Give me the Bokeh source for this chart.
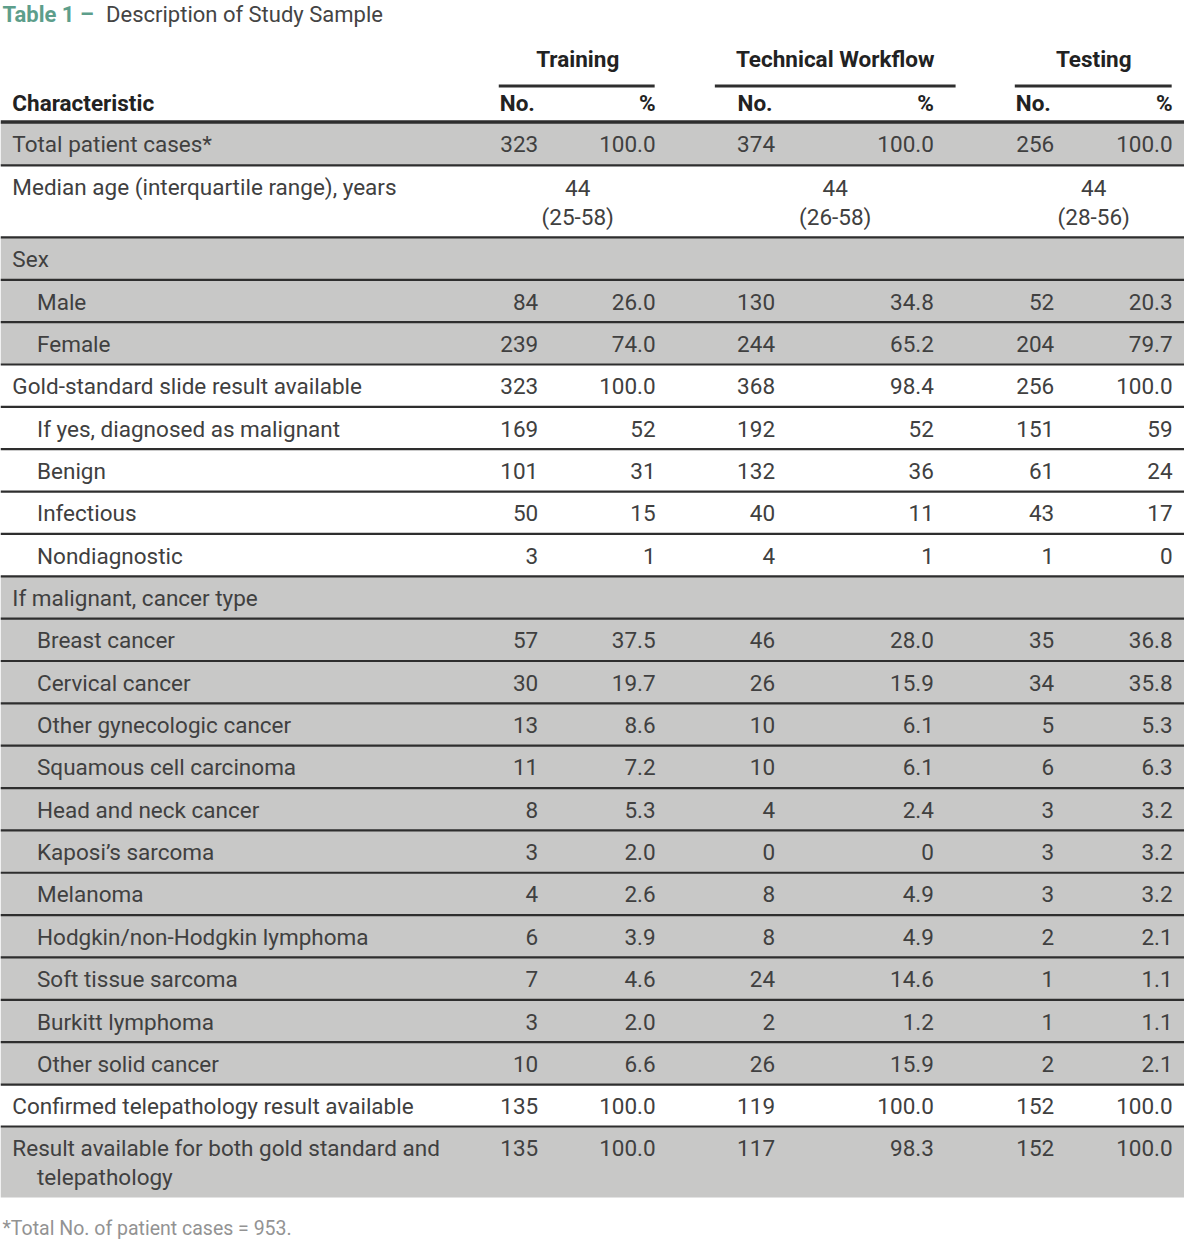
from bokeh.plotting import figure
from bokeh.models import ColumnDataSource, Range1d
from bokeh.embed import file_html
from bokeh.resources import INLINE
from bokeh.core.properties import value

# ---------------- data ----------------
title_bold = "Table 1 \u2013"
title_rest = "Description of Study Sample"
groups = ["Training", "Technical Workflow", "Testing"]
sub_no = "No."
sub_pct = "%"
first_header = "Characteristic"
footnote = "*Total No. of patient cases = 953."

labels = [
    "Total patient cases*",
    "Median age (interquartile range), years",
    "Sex",
    "Male",
    "Female",
    "Gold-standard slide result available",
    "If yes, diagnosed as malignant",
    "Benign",
    "Infectious",
    "Nondiagnostic",
    "If malignant, cancer type",
    "Breast cancer",
    "Cervical cancer",
    "Other gynecologic cancer",
    "Squamous cell carcinoma",
    "Head and neck cancer",
    "Kaposi\u2019s sarcoma",
    "Melanoma",
    "Hodgkin/non-Hodgkin lymphoma",
    "Soft tissue sarcoma",
    "Burkitt lymphoma",
    "Other solid cancer",
    "Confirmed telepathology result available",
    "Result available for both gold standard and",
]
label_cont = {23: "telepathology"}
indent = [0, 0, 0, 1, 1, 0, 1, 1, 1, 1, 0] + [1] * 11 + [0, 0]
shaded = [1, 0, 1, 1, 1, 0, 0, 0, 0, 0, 1] + [1] * 11 + [0, 1]

training_no = ["323", "", "", "84", "239", "323", "169", "101", "50", "3", "",
               "57", "30", "13", "11", "8", "3", "4", "6", "7", "3", "10", "135", "135"]
training_pct = ["100.0", "", "", "26.0", "74.0", "100.0", "52", "31", "15", "1", "",
                "37.5", "19.7", "8.6", "7.2", "5.3", "2.0", "2.6", "3.9", "4.6", "2.0", "6.6", "100.0", "100.0"]
tech_no = ["374", "", "", "130", "244", "368", "192", "132", "40", "4", "",
           "46", "26", "10", "10", "4", "0", "8", "8", "24", "2", "26", "119", "117"]
tech_pct = ["100.0", "", "", "34.8", "65.2", "98.4", "52", "36", "11", "1", "",
            "28.0", "15.9", "6.1", "6.1", "2.4", "0", "4.9", "4.9", "14.6", "1.2", "15.9", "100.0", "98.3"]
test_no = ["256", "", "", "52", "204", "256", "151", "61", "43", "1", "",
           "35", "34", "5", "6", "3", "3", "3", "2", "1", "1", "2", "152", "152"]
test_pct = ["100.0", "", "", "20.3", "79.7", "100.0", "59", "24", "17", "0", "",
            "36.8", "35.8", "5.3", "6.3", "3.2", "3.2", "3.2", "2.1", "1.1", "1.1", "2.1", "100.0", "100.0"]
median_age = ["44", "44", "44"]
median_iqr = ["(25-58)", "(26-58)", "(28-56)"]

# ---------------- layout ----------------
FONT = "Roboto"
FS = "22.5px"
TXT = "#404040"
GRAY = "#c8c8c7"
LINE = "#2e2e2e"

row_heights = [43.5, 73] + [42.9] * 20 + [42.5, 72]
top0 = 123.5
tops, bots = [], []
y = top0
for h in row_heights:
    tops.append(y)
    y += h
    bots.append(y)

group_centers = [585, 846, 1108]
group_lines = [(505, 663), (724, 968), (1028, 1187)]
no_right = [545, 785, 1068]
pct_right = [664, 946, 1188]
no_left = [506, 747, 1029]
label_x = [12, 37]

p = figure(width=1184, height=1242, x_range=Range1d(0, 1200), y_range=Range1d(1258, 0),
           output_backend="svg", toolbar_location=None, min_border=0)
p.axis.visible = False
p.grid.visible = False
p.outline_line_color = None
p.background_fill_color = "white"
p.border_fill_color = "white"

# shaded rows
sh = [i for i in range(len(labels)) if shaded[i]]
p.quad(left=0, right=1200, top=[tops[i] for i in sh], bottom=[bots[i] for i in sh],
       fill_color=GRAY, line_color=None)

# row separator lines
sep_y = bots[:-1]
p.segment(x0=0, x1=1200, y0=sep_y, y1=sep_y, line_color=LINE, line_width=2.2)
# header thick line
p.segment(x0=[0], x1=[1200], y0=[top0 - 0.5], y1=[top0 - 0.5], line_color=LINE, line_width=3.5)
# group underlines
p.segment(x0=[a for a, b in group_lines], x1=[b for a, b in group_lines],
          y0=[86.5] * 3, y1=[86.5] * 3, line_color=LINE, line_width=3)

# title
p.text(x=[2], y=[14], text=[title_bold], text_font=value(FONT), text_font_style="bold",
       text_font_size="22px", text_color="#5d9e8b", text_baseline="middle", text_align="left")
p.text(x=[107], y=[14], text=[title_rest], text_font=value(FONT),
       text_font_size="22px", text_color="#444444", text_baseline="middle", text_align="left")

# headers
p.text(x=group_centers, y=[59] * 3, text=groups, text_font=value(FONT), text_font_style="bold",
       text_font_size=FS, text_color="#222222", text_baseline="middle", text_align="center")
p.text(x=[12], y=[104], text=[first_header], text_font=value(FONT), text_font_style="bold",
       text_font_size=FS, text_color="#222222", text_baseline="middle", text_align="left")
p.text(x=no_left, y=[104] * 3, text=[sub_no] * 3, text_font=value(FONT), text_font_style="bold",
       text_font_size=FS, text_color="#222222", text_baseline="middle", text_align="left")
p.text(x=pct_right, y=[104] * 3, text=[sub_pct] * 3, text_font=value(FONT), text_font_style="bold",
       text_font_size=FS, text_color="#222222", text_baseline="middle", text_align="right")

# labels
ly = [t + 22 for t in tops]
src = ColumnDataSource(dict(x=[label_x[i] for i in indent], y=ly, t=labels))
p.text(x="x", y="y", text="t", source=src, text_font=value(FONT), text_font_size=FS,
       text_color=TXT, text_baseline="middle", text_align="left")
for i, s in label_cont.items():
    p.text(x=[label_x[1]], y=[tops[i] + 51], text=[s], text_font=value(FONT), text_font_size=FS,
           text_color=TXT, text_baseline="middle", text_align="left")

# numbers
cols = [(training_no, no_right[0]), (training_pct, pct_right[0]),
        (tech_no, no_right[1]), (tech_pct, pct_right[1]),
        (test_no, no_right[2]), (test_pct, pct_right[2])]
for vals, xr in cols:
    idx = [i for i, v in enumerate(vals) if v]
    p.text(x=[xr] * len(idx), y=[ly[i] for i in idx], text=[vals[i] for i in idx],
           text_font=value(FONT), text_font_size=FS, text_color=TXT,
           text_baseline="middle", text_align="right")

# median age
p.text(x=group_centers, y=[tops[1] + 23] * 3, text=median_age, text_font=value(FONT),
       text_font_size=FS, text_color=TXT, text_baseline="middle", text_align="center")
p.text(x=group_centers, y=[tops[1] + 52] * 3, text=median_iqr, text_font=value(FONT),
       text_font_size=FS, text_color=TXT, text_baseline="middle", text_align="center")

# footnote
p.text(x=[2], y=[1244], text=[footnote], text_font=value(FONT), text_font_size="19.5px",
       text_color="#939393", text_baseline="middle", text_align="left")

open("out.html", "w").write(file_html(p, INLINE))
